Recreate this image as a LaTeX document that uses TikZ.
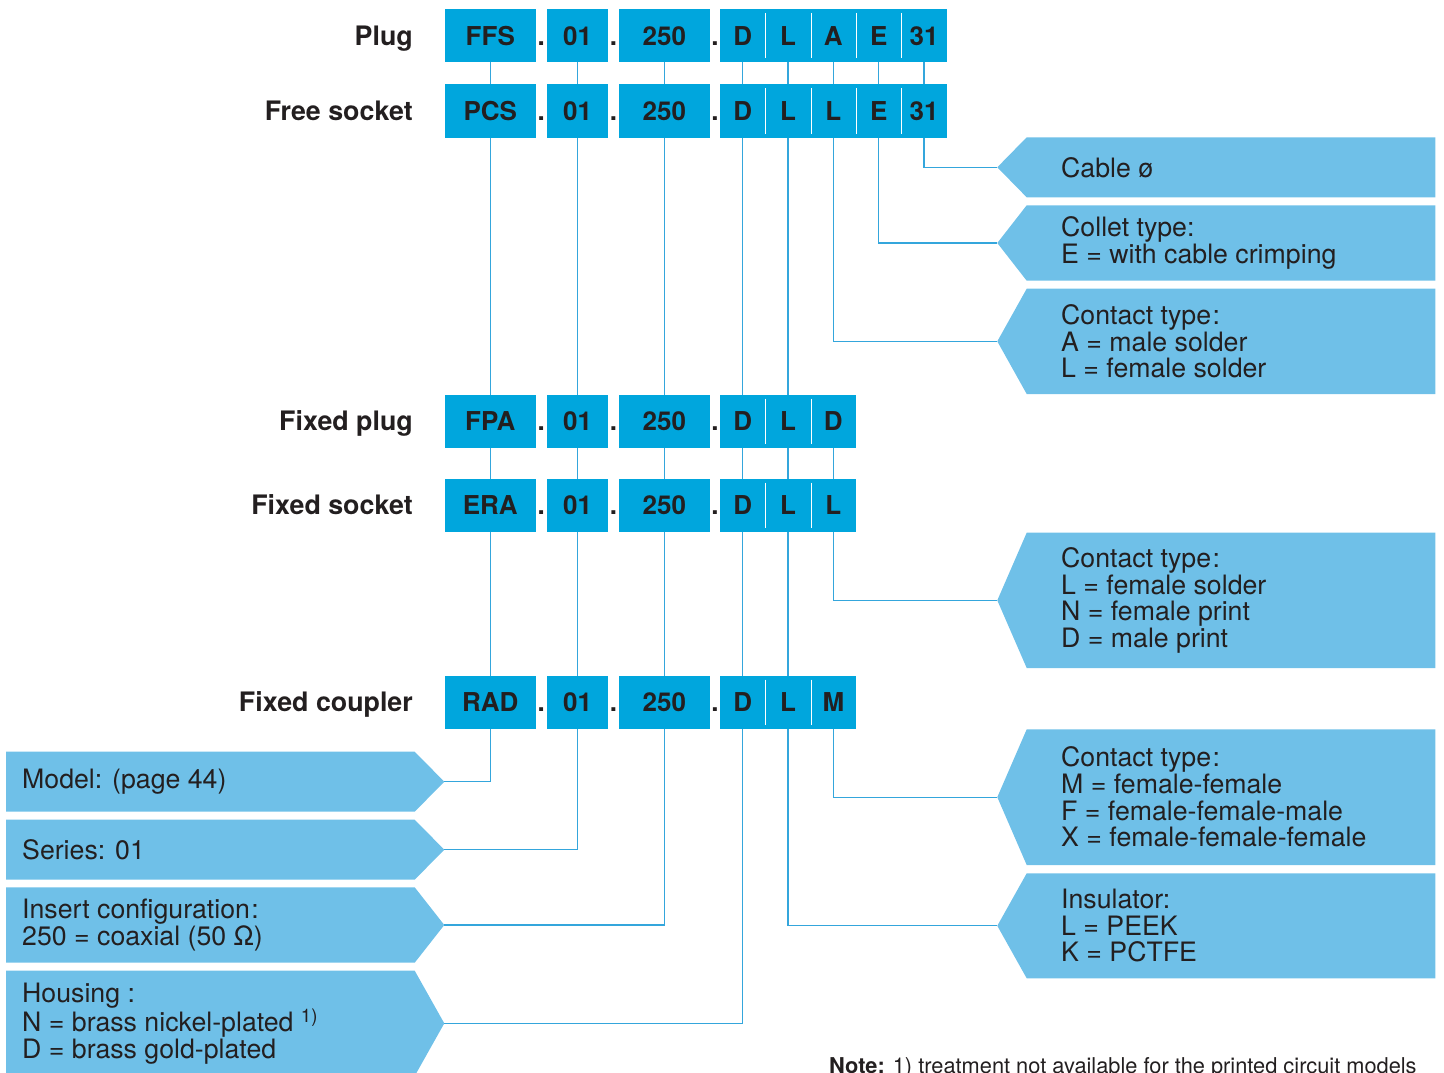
\documentclass[tikz,border=0pt]{standalone}
\usepackage{fontspec}
\setmainfont{TeX Gyre Heros}
\definecolor{boxblue}{RGB}{0,166,221}
\definecolor{callblue}{RGB}{111,192,232}
\definecolor{lineblue}{RGB}{52,166,220}
\definecolor{ink}{RGB}{35,31,32}
\tikzset{
  cell/.style={fill=boxblue, inner sep=0pt, minimum height=53pt, text height=18.7pt, text depth=0pt,
    font=\fontsize{26}{28}\bfseries\selectfont, text=ink},
  rowlabel/.style={anchor=east, inner sep=0pt, text height=19pt, text depth=0pt,
    font=\fontsize{26.8}{28}\bfseries\selectfont, text=ink},
  dotnode/.style={anchor=base, inner sep=0pt, font=\fontsize{26}{28}\bfseries\selectfont, text=ink},
  conn/.style={draw=lineblue, line width=1.2pt},
  calltext/.style={anchor=west, inner sep=0pt, align=left, text=ink, font=\fontsize{26.7}{26.7}\selectfont},
  divider/.style={draw=white, line width=1pt},
  notetext/.style={anchor=base west, inner sep=0pt, text=ink, font=\fontsize{21.8}{24}\selectfont}
}
% row: id, y centre, prefix, label
\newcommand{\coderow}[4]{%
  \node[rowlabel] (#1-lab) at (413,#2) {#4};
  \node[cell, minimum width=90.7pt] (#1-a) at (490.3,#2) {#3};
  \node[cell, minimum width=61pt] (#1-b) at (577.5,#2) {01};
  \node[cell, minimum width=90.7pt] (#1-c) at (664.3,#2) {250};
  \node[dotnode] (#1-d1) at (541.3,#2+9.35) {.};
  \node[dotnode] (#1-d2) at (613.5,#2+9.35) {.};
  \node[dotnode] (#1-d3) at (714.9,#2+9.35) {.};
}
% cell: id, index, y centre, text
\newcommand{\codecell}[4]{%
  \node[cell, minimum width=45.6pt] (#1-#2) at ({742.7+45.33*(#2-1)},#3) {#4};
}
\newcommand{\celldiv}[2]{%
  \draw[divider] ([yshift=-4pt]#1-#2.north east) -- ([yshift=4pt]#1-#2.south east);
}
% right callout: name, top, bottom, text
\newcommand{\rcall}[4]{%
  \fill[callblue] (997.3,{(#2+#3)/2}) -- (1026.7,#2) -- (1435.3,#2) -- (1435.3,#3) -- (1026.7,#3) -- cycle;
  \coordinate (#1-tip) at (997.3,{(#2+#3)/2});
  \node[calltext] (#1) at (1061,{(#2+#3)/2}) {#4};
}
% left callout: name, top, bottom, text
\newcommand{\lcall}[4]{%
  \fill[callblue] (6,#2) -- (414.7,#2) -- (444.3,{(#2+#3)/2}) -- (414.7,#3) -- (6,#3) -- cycle;
  \coordinate (#1-tip) at (444.3,{(#2+#3)/2});
  \node[calltext] (#1) at (22,{(#2+#3)/2}) {#4};
}
\begin{document}
\begin{tikzpicture}[x=1pt,y=-1pt]
\useasboundingbox (0,0) rectangle (1444,1073);
\clip (0,0) rectangle (1444,1073);

% callouts
\rcall{cable}{137.3}{197.3}{Cable ø}
\rcall{collet}{205.3}{280.7}{Collet type:\\E = with cable crimping}
\rcall{ctA}{288.7}{394}{Contact type\kern1.5pt:\\A = male solder\\L = female solder}
\rcall{ctB}{532.7}{668}{Contact type\kern1.5pt:\\L = female solder\\N = female print\\D = male print}
\rcall{ctC}{729.3}{865}{Contact type\kern1.5pt:\\M = female-female\\F = female-female-male\\X = female-female-female}
\rcall{insul}{873.3}{978.3}{Insulator:\\L = PEEK\\K = PCTFE}

\lcall{model}{751.7}{811.7}{Model: (page 44)}
\lcall{series}{819.7}{879.7}{Series: 01}
\lcall{insert}{887.3}{962.7}{Insert configuration\kern1.5pt:\\250 = coaxial (50 Ω)}
\lcall{housing}{970.7}{1076}{Housing :\\N = brass nickel-plated \textsuperscript{1)}\\D = brass gold-plated}

% code rows
\coderow{plug}{35.7}{FFS}{Plug}
\codecell{plug}{1}{35.7}{D}\codecell{plug}{2}{35.7}{L}\codecell{plug}{3}{35.7}{A}\codecell{plug}{4}{35.7}{E}\codecell{plug}{5}{35.7}{31}
\celldiv{plug}{1}\celldiv{plug}{2}\celldiv{plug}{3}\celldiv{plug}{4}

\coderow{free}{111}{PCS}{Free socket}
\codecell{free}{1}{111}{D}\codecell{free}{2}{111}{L}\codecell{free}{3}{111}{L}\codecell{free}{4}{111}{E}\codecell{free}{5}{111}{31}
\celldiv{free}{1}\celldiv{free}{2}\celldiv{free}{3}\celldiv{free}{4}

\coderow{fpa}{421.3}{FPA}{Fixed plug}
\codecell{fpa}{1}{421.3}{D}\codecell{fpa}{2}{421.3}{L}\codecell{fpa}{3}{421.3}{D}
\celldiv{fpa}{1}\celldiv{fpa}{2}

\coderow{era}{505.3}{ERA}{Fixed socket}
\codecell{era}{1}{505.3}{D}\codecell{era}{2}{505.3}{L}\codecell{era}{3}{505.3}{L}
\celldiv{era}{1}\celldiv{era}{2}

\coderow{rad}{702.3}{RAD}{Fixed coupler}
\codecell{rad}{1}{702.3}{D}\codecell{rad}{2}{702.3}{L}\codecell{rad}{3}{702.3}{M}
\celldiv{rad}{1}\celldiv{rad}{2}

% connectors
\begin{scope}[conn]
\foreach \c in {a,b,c,1,2,3,4,5} {\draw (plug-\c.south) -- (free-\c.north);}
\foreach \c in {a,b,c,1,2} {\draw (free-\c.south) -- (fpa-\c.north);}
\foreach \c in {a,b,c,1,2,3} {\draw (fpa-\c.south) -- (era-\c.north);}
\foreach \c in {a,b,c,1,2} {\draw (era-\c.south) -- (rad-\c.north);}
\draw (free-3.south) |- (ctA-tip);
\draw (free-4.south) |- (collet-tip);
\draw (free-5.south) |- (cable-tip);
\draw (era-3.south) |- (ctB-tip);
\draw (rad-3.south) |- (ctC-tip);
\draw (rad-2.south) |- (insul-tip);
\draw (rad-a.south) |- (model-tip);
\draw (rad-b.south) |- (series-tip);
\draw (rad-c.south) |- (insert-tip);
\draw (rad-1.south) |- (housing-tip);
\end{scope}

\node[notetext] (note) at (829,1073.5) {\textbf{Note:} 1) treatment not available for the printed circuit models};
\end{tikzpicture}
\end{document}
